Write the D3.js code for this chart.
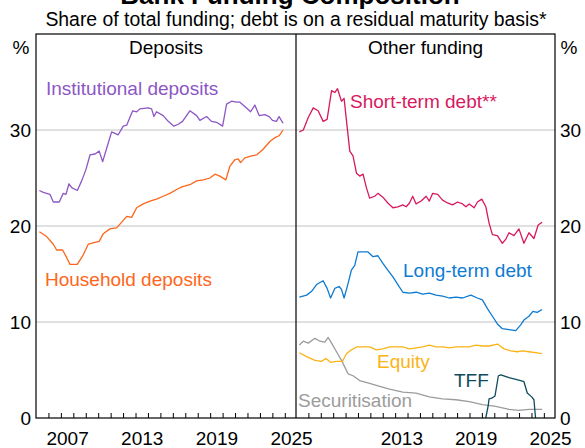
<!DOCTYPE html>
<html>
<head>
<meta charset="utf-8">
<script src="https://cdn.jsdelivr.net/npm/d3@7"></script>
<style>
  body { margin: 0; background: #fff; }
  svg { display: block; font-family: "Liberation Sans", Arial, sans-serif; }
</style>
</head>
<body>
<svg id="chart" width="585" height="448"></svg>
<script>
// series: [decimal year, % of total funding]
const institutional = [
  [2005.27, 23.7], [2005.59, 23.5], [2006.12, 23.3], [2006.39, 22.5], [2006.87, 22.5],
  [2007.19, 23.4], [2007.41, 23.3], [2007.65, 24.4], [2007.87, 24.0], [2008.32, 23.7],
  [2008.67, 24.7], [2009.02, 25.9], [2009.34, 27.4], [2009.74, 27.5], [2010.08, 27.8],
  [2010.36, 26.7], [2010.68, 28.1], [2011.08, 29.8], [2011.61, 29.5], [2012.01, 30.4],
  [2012.29, 30.5], [2012.77, 32.0], [2013.09, 31.9], [2013.35, 32.2], [2014.02, 32.3],
  [2014.29, 32.2], [2014.48, 31.4], [2014.69, 31.9], [2015.22, 31.5], [2015.63, 30.9],
  [2016.08, 30.4], [2016.43, 30.6], [2016.78, 30.9], [2017.37, 32.0], [2017.91, 31.5],
  [2018.17, 31.0], [2018.71, 31.4], [2019.11, 30.9], [2019.51, 30.8], [2020.0, 30.4],
  [2020.32, 32.7], [2020.72, 33.0], [2021.12, 32.9], [2021.39, 32.9], [2021.92, 32.3],
  [2022.25, 31.9], [2022.59, 32.6], [2022.94, 31.5], [2023.39, 31.6], [2023.74, 31.4],
  [2024.01, 31.0], [2024.33, 30.9], [2024.54, 31.4], [2024.86, 30.7]
]
const household = [
  [2005.27, 19.4], [2005.86, 18.9], [2006.39, 18.1], [2006.66, 17.5], [2007.14, 17.5],
  [2007.47, 16.7], [2007.73, 16.0], [2008.32, 16.0], [2008.80, 17.0], [2009.2, 18.1],
  [2009.74, 18.3], [2010.08, 18.4], [2010.41, 19.2], [2010.94, 19.7], [2011.48, 19.8],
  [2011.75, 20.2], [2012.29, 21.0], [2012.69, 20.9], [2013.09, 21.9], [2013.62, 22.3],
  [2014.16, 22.6], [2014.69, 22.8], [2015.22, 23.1], [2015.76, 23.4], [2016.3, 23.8],
  [2016.78, 24.1], [2017.37, 24.3], [2017.91, 24.7], [2018.44, 24.8], [2018.98, 25.0],
  [2019.38, 25.4], [2019.78, 25.2], [2020.26, 24.8], [2020.58, 26.2], [2020.98, 26.9],
  [2021.25, 27.0], [2021.44, 26.6], [2021.79, 27.1], [2022.33, 27.3], [2022.73, 27.4],
  [2023.26, 28.0], [2023.8, 28.8], [2024.2, 29.2], [2024.54, 29.4], [2024.86, 30.0]
]
const shortTerm = [
  [2005.27, 29.8], [2005.59, 30.0], [2005.99, 31.3], [2006.39, 32.3], [2006.79, 32.0],
  [2007.19, 30.9], [2007.51, 31.1], [2007.87, 34.1], [2008.13, 33.9], [2008.35, 34.3],
  [2008.67, 33.0], [2008.88, 33.3], [2009.12, 30.4], [2009.34, 27.8], [2009.6, 27.3],
  [2009.88, 25.5], [2010.14, 25.2], [2010.41, 25.4], [2010.68, 24.0], [2010.94, 22.9],
  [2011.35, 23.1], [2011.61, 23.4], [2012.01, 23.0], [2012.41, 22.4], [2012.82, 21.9],
  [2013.22, 22.0], [2013.62, 22.2], [2013.89, 22.0], [2014.16, 22.4], [2014.42, 23.1],
  [2014.69, 22.3], [2015.1, 22.6], [2015.5, 23.1], [2015.76, 22.6], [2016.03, 23.4],
  [2016.43, 23.3], [2016.83, 22.7], [2017.23, 22.4], [2017.63, 22.2], [2018.04, 22.5],
  [2018.44, 22.3], [2018.71, 22.0], [2018.98, 22.3], [2019.38, 21.9], [2019.64, 22.5],
  [2019.99, 22.8], [2020.32, 22.0], [2020.58, 20.3], [2020.85, 19.1], [2021.25, 19.0],
  [2021.65, 18.2], [2021.92, 18.6], [2022.19, 19.3], [2022.59, 19.0], [2022.99, 19.7],
  [2023.39, 18.2], [2023.8, 19.3], [2024.2, 18.7], [2024.54, 20.1], [2024.86, 20.4]
]
const longTerm = [
  [2005.27, 12.6], [2005.86, 12.8], [2006.26, 13.2], [2006.66, 13.9], [2007.19, 14.3],
  [2007.51, 13.5], [2007.79, 12.5], [2008.13, 13.5], [2008.48, 13.7], [2008.67, 13.4],
  [2008.88, 12.5], [2009.2, 14.0], [2009.47, 15.4], [2009.74, 15.9], [2010.0, 17.3],
  [2010.41, 17.3], [2010.81, 17.3], [2011.21, 16.8], [2011.61, 16.9], [2012.01, 16.1],
  [2012.41, 15.4], [2012.82, 14.7], [2013.22, 13.9], [2013.62, 13.1], [2014.16, 13.0],
  [2014.69, 13.1], [2015.22, 12.9], [2015.76, 13.0], [2016.3, 12.8], [2016.83, 12.7],
  [2017.37, 12.5], [2017.91, 12.6], [2018.44, 12.5], [2019.11, 12.8], [2019.64, 12.5],
  [2020.04, 12.3], [2020.45, 11.4], [2020.85, 10.6], [2021.25, 9.8], [2021.65, 9.3],
  [2022.19, 9.2], [2022.73, 9.1], [2023.13, 9.7], [2023.39, 10.2], [2023.8, 10.6],
  [2024.12, 11.1], [2024.46, 11.0], [2024.86, 11.3]
]
const equity = [
  [2005.27, 6.8], [2005.86, 6.4], [2006.53, 6.0], [2007.06, 5.9], [2007.41, 6.2],
  [2007.79, 5.8], [2008.27, 5.9], [2008.75, 5.9], [2009.07, 6.7], [2009.47, 7.1],
  [2009.88, 7.4], [2010.41, 7.4], [2010.94, 7.4], [2011.48, 7.1], [2012.01, 7.2],
  [2012.55, 7.4], [2013.09, 7.4], [2013.62, 7.4], [2014.16, 7.2], [2014.69, 7.3],
  [2015.22, 7.4], [2015.76, 7.6], [2016.3, 7.4], [2016.83, 7.4], [2017.37, 7.3],
  [2017.91, 7.4], [2018.44, 7.4], [2018.98, 7.4], [2019.51, 7.6], [2020.04, 7.5],
  [2020.58, 7.5], [2021.25, 7.7], [2021.79, 7.2], [2022.33, 7.0], [2022.86, 6.9],
  [2023.26, 7.0], [2023.8, 6.9], [2024.33, 6.8], [2024.86, 6.7]
]
const securitisation = [
  [2005.27, 7.6], [2005.59, 8.0], [2005.99, 7.8], [2006.53, 8.3], [2006.93, 8.0],
  [2007.33, 7.9], [2007.59, 8.4], [2007.87, 7.8], [2008.27, 6.9], [2008.67, 6.0],
  [2008.94, 5.3], [2009.2, 4.6], [2009.6, 4.4], [2010.14, 3.9], [2010.94, 3.6],
  [2011.75, 3.3], [2012.55, 3.0], [2013.62, 2.7], [2014.69, 2.6], [2015.76, 2.2],
  [2016.83, 2.0], [2017.91, 1.9], [2018.98, 1.7], [2020.04, 1.4], [2021.12, 1.2],
  [2022.19, 0.9], [2022.99, 0.8], [2023.8, 0.9], [2024.86, 0.9]
]
const tff = [
  [2020.31, 0], [2020.5, 1.2], [2020.58, 2.0], [2020.85, 2.1], [2021.06, 2.3],
  [2021.33, 4.4], [2021.53, 4.5], [2022.19, 4.2], [2023.13, 3.9], [2023.39, 3.8],
  [2023.66, 2.6], [2024.02, 2.2], [2024.2, 1.9], [2024.33, 0]
]

const yTicks = [0, 10, 20, 30]
const leftYearLabels = [2007, 2013, 2019, 2025]
const rightYearLabels = [2013, 2019, 2025]
const panelTitles = ["Deposits", "Other funding"]

const svg = d3.select('#chart')
const plotTop = 34, plotBottom = 418
const x0 = 36, xMid = 296, x1 = 555
const font = '"Liberation Sans", Arial, sans-serif'

const y = d3.scaleLinear().domain([0, 40]).range([plotBottom, plotTop])
const xLeft = d3.scaleLinear().domain([2005, 2025.9]).range([x0, xMid])
const xRight = d3.scaleLinear().domain([2005, 2025.9]).range([xMid, x1])

// title & subtitle
svg.append('text').attr('x', 290).attr('y', 4).attr('text-anchor', 'middle')
  .style('font-size', '26px').style('font-weight', 'bold')
  .text('Bank Funding Composition')
svg.append('text').attr('x', 296).attr('y', 26).attr('text-anchor', 'middle')
  .style('font-size', '19.4px')
  .text('Share of total funding; debt is on a residual maturity basis*')

// gridlines
svg.append('g').selectAll('line')
  .data(yTicks.filter(d => d > 0))
  .enter().append('line')
  .attr('x1', x0).attr('x2', x1)
  .attr('y1', d => y(d)).attr('y2', d => y(d))
  .attr('stroke', '#c2c2c2').attr('stroke-width', 1)

// year ticks (inside)
const drawTicks = (scale) => {
  svg.append('g')
    .attr('transform', `translate(0,${plotBottom})`)
    .call(d3.axisBottom(scale).tickValues(d3.range(2006, 2026)).tickSize(-5).tickFormat(''))
    .call(g => g.select('.domain').remove())
    .call(g => g.selectAll('line').attr('stroke', '#000'))
}
drawTicks(xLeft)
drawTicks(xRight)

const drawYearLabels = (scale, years) => {
  svg.append('g')
    .attr('transform', `translate(0,${plotBottom})`)
    .call(d3.axisBottom(scale).tickValues(years.map(d => d + 0.5)).tickSize(0).tickPadding(14)
      .tickFormat(d => Math.floor(d)))
    .call(g => g.select('.domain').remove())
    .call(g => g.selectAll('text').style('font-size', '19px').attr('fill', '#000')
      .style('font-family', font))
}
drawYearLabels(xLeft, leftYearLabels)
drawYearLabels(xRight, rightYearLabels)

// y axes labels
svg.append('g').attr('transform', `translate(${x0},0)`)
  .call(d3.axisLeft(y).tickValues(yTicks).tickSize(0).tickPadding(5))
  .call(g => g.select('.domain').remove())
  .call(g => g.selectAll('text').style('font-size', '19px').attr('fill', '#000')
    .style('font-family', font))
svg.append('g').attr('transform', `translate(${x1},0)`)
  .call(d3.axisRight(y).tickValues(yTicks).tickSize(0).tickPadding(5))
  .call(g => g.select('.domain').remove())
  .call(g => g.selectAll('text').style('font-size', '19px').attr('fill', '#000')
    .style('font-family', font))

svg.append('text').attr('x', 21).attr('y', 54).attr('text-anchor', 'middle')
  .style('font-size', '19px').text('%')
svg.append('text').attr('x', 569).attr('y', 54).attr('text-anchor', 'middle')
  .style('font-size', '19px').text('%')

// panel titles
svg.selectAll('.ptitle').data(panelTitles).enter().append('text')
  .attr('x', (d, i) => i === 0 ? (x0 + xMid) / 2 : (xMid + x1) / 2)
  .attr('y', 54).attr('text-anchor', 'middle')
  .style('font-size', '19px').text(d => d)

// series lines
const series = [
  {data: institutional, x: xLeft, color: '#8c57c4'},
  {data: household, x: xLeft, color: '#fd661b'},
  {data: shortTerm, x: xRight, color: '#d7195f'},
  {data: longTerm, x: xRight, color: '#0d7bd2'},
  {data: securitisation, x: xRight, color: '#9c9c9c'},
  {data: equity, x: xRight, color: '#fbb317'},
  {data: tff, x: xRight, color: '#0e4b5c'}
]
series.forEach(s => {
  const line = d3.line().x(d => s.x(d[0])).y(d => y(d[1]))
  svg.append('path').datum(s.data)
    .attr('d', line)
    .attr('fill', 'none')
    .attr('stroke', s.color)
    .attr('stroke-width', 1.3)
    .attr('stroke-linejoin', 'round')
})

// series labels
const labels = [
  {text: 'Institutional deposits', x: 46, y: 95, color: '#8c57c4'},
  {text: 'Household deposits', x: 45, y: 286, color: '#fd661b'},
  {text: 'Short-term debt**', x: 350, y: 108, color: '#d7195f'},
  {text: 'Long-term debt', x: 403, y: 277, color: '#0d7bd2'},
  {text: 'Equity', x: 377, y: 368, color: '#fbb317'},
  {text: 'TFF', x: 454, y: 387, color: '#0e4b5c'},
  {text: 'Securitisation', x: 298, y: 407, color: '#9c9c9c'}
]
svg.selectAll('.slabel').data(labels).enter().append('text')
  .attr('x', d => d.x).attr('y', d => d.y)
  .attr('fill', d => d.color)
  .style('font-size', '19px')
  .text(d => d.text)

// frame
svg.append('rect').attr('x', x0).attr('y', plotTop)
  .attr('width', x1 - x0).attr('height', plotBottom - plotTop)
  .attr('fill', 'none').attr('stroke', '#000').attr('stroke-width', 1.2)
svg.append('line').attr('x1', xMid).attr('x2', xMid).attr('y1', plotTop).attr('y2', plotBottom)
  .attr('stroke', '#000').attr('stroke-width', 1.2)
</script>
</body>
</html>
